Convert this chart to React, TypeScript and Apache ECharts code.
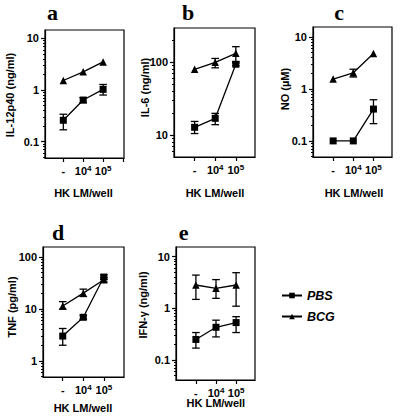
import React, { useEffect, useRef } from 'react';
import * as echarts from 'echarts';

// ---------- data ----------
const categories = ['-', '10^4', '10^5'];
const xValues = [0, 1, 2];
const seriesNames = ['PBS', 'BCG'];

// a: IL-12p40 (ng/ml)
const aPBS = [0.26, 0.64, 1.03];
const aPBSLow = [0.17, 0.57, 0.8];
const aPBSHigh = [0.34, 0.71, 1.28];
const aBCG = [1.53, 2.25, 3.5];
const aBCGLow = [null, null, null];
const aBCGHigh = [null, null, null];

// b: IL-6 (ng/ml)
const bPBS = [12.8, 17, 94];
const bPBSLow = [10.5, 13.9, 90];
const bPBSHigh = [15.4, 19.9, 98];
const bBCG = [80, 100, 133];
const bBCGLow = [null, 84, 102];
const bBCGHigh = [null, 113, 164];

// c: NO (µM)
const cPBS = [0.1, 0.1, 0.41];
const cPBSLow = [null, null, 0.215];
const cPBSHigh = [null, null, 0.62];
const cBCG = [1.55, 2.05, 4.8];
const cBCGLow = [null, 1.7, null];
const cBCGHigh = [null, 2.4, null];

// d: TNF (pg/ml)
const dPBS = [3.0, 6.9, 41];
const dPBSLow = [2.0, 6.3, 37];
const dPBSHigh = [4.2, 7.6, 45];
const dBCG = [11.4, 20.1, 36.4];
const dBCGLow = [9.9, 17.3, 33];
const dBCGHigh = [13.8, 24, 40];

// e: IFN-γ (ng/ml)
const ePBS = [0.25, 0.43, 0.53];
const ePBSLow = [0.17, 0.28, 0.34];
const ePBSHigh = [0.34, 0.59, 0.69];
const eBCG = [2.83, 2.44, 2.83];
const eBCGLow = [1.49, 1.56, 1.1];
const eBCGHigh = [4.4, 3.6, 4.9];

const majorTicksA = [0.1, 1, 10];
const majorTicksB = [10, 100];
const majorTicksC = [0.1, 1, 10];
const majorTicksD = [1, 10, 100];
const majorTicksE = [0.1, 1, 10];
const minorMultipliers = [2, 3, 4, 5, 6, 7, 8, 9];

const xTitle = 'HK LM/well';

// ---------- layout ----------
type Panel = {
  letter: string;
  yTitle: string;
  pbs: number[]; pbsLow: (number | null)[]; pbsHigh: (number | null)[];
  bcg: number[]; bcgLow: (number | null)[]; bcgHigh: (number | null)[];
  majors: number[];
  yMin: number; yMax: number;
  xMin: number; xMax: number;
  grid: { left: number; top: number; width: number; height: number };
  letterPos: [number, number];
  yTitlePos: [number, number];
  xTitlePos: [number, number];
};

const panels: Panel[] = [
  {
    letter: 'a', yTitle: 'IL-12p40 (ng/ml)',
    pbs: aPBS, pbsLow: aPBSLow, pbsHigh: aPBSHigh, bcg: aBCG, bcgLow: aBCGLow, bcgHigh: aBCGHigh,
    majors: majorTicksA, yMin: 0.0484, yMax: 14.5, xMin: -0.92, xMax: 3.05,
    grid: { left: 45, top: 30, width: 79, height: 128 },
    letterPos: [52.5, 12], yTitlePos: [10, 95], xTitlePos: [83.5, 192.7],
  },
  {
    letter: 'b', yTitle: 'IL-6 (ng/ml)',
    pbs: bPBS, pbsLow: bPBSLow, pbsHigh: bPBSHigh, bcg: bBCG, bcgLow: bBCGLow, bcgHigh: bBCGHigh,
    majors: majorTicksB, yMin: 5, yMax: 296, xMin: -1.0, xMax: 2.93,
    grid: { left: 174, top: 28, width: 81, height: 129 },
    letterPos: [188, 12], yTitlePos: [145, 87.5], xTitlePos: [215, 192.7],
  },
  {
    letter: 'c', yTitle: 'NO (µM)',
    pbs: cPBS, pbsLow: cPBSLow, pbsHigh: cPBSHigh, bcg: cBCG, bcgLow: cBCGLow, bcgHigh: cBCGHigh,
    majors: majorTicksC, yMin: 0.049, yMax: 15.6, xMin: -1.0, xMax: 2.92,
    grid: { left: 313, top: 27, width: 79, height: 130 },
    letterPos: [339, 12], yTitlePos: [285, 89], xTitlePos: [354, 192.7],
  },
  {
    letter: 'd', yTitle: 'TNF (pg/ml)',
    pbs: dPBS, pbsLow: dPBSLow, pbsHigh: dPBSHigh, bcg: dBCG, bcgLow: dBCGLow, bcgHigh: dBCGHigh,
    majors: majorTicksD, yMin: 0.49, yMax: 155, xMin: -0.96, xMax: 2.98,
    grid: { left: 43, top: 247, width: 81, height: 130 },
    letterPos: [58, 232], yTitlePos: [11.5, 307], xTitlePos: [83, 408.3],
  },
  {
    letter: 'e', yTitle: 'IFN-γ (ng/ml)',
    pbs: ePBS, pbsLow: ePBSLow, pbsHigh: ePBSHigh, bcg: eBCG, bcgLow: eBCGLow, bcgHigh: eBCGHigh,
    majors: majorTicksE, yMin: 0.041, yMax: 15.4, xMin: -0.99, xMax: 2.94,
    grid: { left: 176, top: 247, width: 79, height: 133 },
    letterPos: [183.7, 232], yTitlePos: [143, 305], xTitlePos: [215.8, 403.3],
  },
];

const SANS = '"Liberation Sans", Arial, Helvetica, sans-serif';
const SERIF = '"Liberation Serif", "Times New Roman", serif';
const BLACK = '#000';

function minorTicksFor(min: number, max: number): number[] {
  const out: number[] = [];
  for (let e = Math.floor(Math.log10(min)); e <= Math.ceil(Math.log10(max)); e++) {
    for (const m of minorMultipliers) {
      const v = m * Math.pow(10, e);
      if (v > min && v < max) out.push(Math.log10(v));
    }
  }
  return out;
}

function errorRenderItem(params: any, api: any) {
  const x = api.value(0);
  const lo = api.value(1);
  const hi = api.value(2);
  const p1 = api.coord([x, lo]);
  const p2 = api.coord([x, hi]);
  const w = 3.8;
  const style = { stroke: BLACK, lineWidth: 1.3 };
  return {
    type: 'group',
    children: [
      { type: 'line', shape: { x1: p1[0], y1: p1[1], x2: p2[0], y2: p2[1] }, style },
      { type: 'line', shape: { x1: p1[0] - w, y1: p1[1], x2: p1[0] + w, y2: p1[1] }, style },
      { type: 'line', shape: { x1: p2[0] - w, y1: p2[1], x2: p2[0] + w, y2: p2[1] }, style },
    ],
  };
}

function buildOption() {
  const grid: any[] = [];
  const xAxis: any[] = [];
  const yAxis: any[] = [];
  const series: any[] = [];
  const graphic: any[] = [];

  panels.forEach((p, i) => {
    grid.push({ ...p.grid, show: true, borderColor: BLACK, borderWidth: 1.2, backgroundColor: 'transparent' });
    xAxis.push({
      type: 'value', gridIndex: i, min: p.xMin, max: p.xMax,
      splitLine: { show: false },
      axisLine: { show: true, onZero: false, lineStyle: { color: BLACK, width: 1.2 } },
      axisTick: { show: true, inside: false, length: 4, customValues: [...xValues, 3].filter((v) => v <= p.xMax + 0.1), lineStyle: { color: BLACK, width: 1.2 } },
      axisLabel: {
        show: true, margin: 6, customValues: xValues, color: BLACK,
        formatter: (v: number) => {
          const c = categories[Math.round(v)];
          if (c === '-') return '{m|-}';
          const [base, exp] = c.split('^');
          return `{b|${base}}{s|${exp}}`;
        },
        rich: {
          m: { fontFamily: SANS, fontWeight: 'bold', fontSize: 11, lineHeight: 12, padding: [2, 0, 0, 0], verticalAlign: 'bottom', color: BLACK },
          b: { fontFamily: SANS, fontWeight: 'bold', fontSize: 11, lineHeight: 12, padding: [2, 0, 0, 0], verticalAlign: 'bottom', color: BLACK },
          s: { fontFamily: SANS, fontWeight: 'bold', fontSize: 8, lineHeight: 9, verticalAlign: 'top', color: BLACK },
        },
      },
    });
    // main log axis
    yAxis.push({
      type: 'log', logBase: 10, gridIndex: i, min: p.yMin, max: p.yMax,
      position: 'left',
      splitLine: { show: false },
      axisLine: { show: true, onZero: false, lineStyle: { color: BLACK, width: 1.2 } },
      axisTick: { show: true, inside: false, length: 4, customValues: p.majors, lineStyle: { color: BLACK, width: 1.2 } },
      axisLabel: {
        show: true, customValues: p.majors, margin: 6, color: BLACK,
        fontFamily: SANS, fontWeight: 'bold', fontSize: 11,
        formatter: (v: number) => String(v),
      },
    });
    // minor ticks (decorative, log-spaced)
    yAxis.push({
      type: 'value', gridIndex: i, min: Math.log10(p.yMin), max: Math.log10(p.yMax),
      position: 'left', offset: 0,
      splitLine: { show: false },
      axisLine: { show: false, onZero: false },
      axisTick: { show: true, inside: false, length: 2, customValues: minorTicksFor(p.yMin, p.yMax), lineStyle: { color: BLACK, width: 1 } },
      axisLabel: { show: false },
    });
    const yIdx = i * 2;
    const mk = (name: string, vals: number[], symbol: string, size: number) => ({
      type: 'line', name, xAxisIndex: i, yAxisIndex: yIdx,
      data: xValues.map((x, k) => [x, vals[k]]),
      symbol, symbolSize: size, showSymbol: true,
      lineStyle: { color: BLACK, width: 1.3 },
      itemStyle: { color: BLACK, borderColor: BLACK, borderWidth: 0 },
      z: 3,
    });
    series.push(mk(seriesNames[0], p.pbs, 'rect', 7));
    series.push(mk(seriesNames[1], p.bcg, 'triangle', 7.5));
    const errData = (lo: (number | null)[], hi: (number | null)[]) =>
      xValues.filter((_, k) => lo[k] != null && hi[k] != null).map((x) => {
        const k = xValues.indexOf(x);
        return [x, lo[k], hi[k]];
      });
    series.push({
      type: 'custom', xAxisIndex: i, yAxisIndex: yIdx,
      renderItem: errorRenderItem, encode: { x: 0, y: [1, 2] },
      data: errData(p.pbsLow, p.pbsHigh), z: 2, silent: true,
    });
    series.push({
      type: 'custom', xAxisIndex: i, yAxisIndex: yIdx,
      renderItem: errorRenderItem, encode: { x: 0, y: [1, 2] },
      data: errData(p.bcgLow, p.bcgHigh), z: 2, silent: true,
    });

    graphic.push({
      type: 'text', x: p.letterPos[0], y: p.letterPos[1],
      style: { text: p.letter, font: `bold 22px ${SERIF}`, fill: BLACK, textAlign: 'center', textVerticalAlign: 'middle' },
    });
    graphic.push({
      type: 'text', x: p.yTitlePos[0], y: p.yTitlePos[1], rotation: Math.PI / 2,
      style: { text: p.yTitle, font: `bold 11px ${SANS}`, fill: BLACK, textAlign: 'center', textVerticalAlign: 'middle' },
    });
    graphic.push({
      type: 'text', x: p.xTitlePos[0], y: p.xTitlePos[1],
      style: { text: xTitle, font: `bold 11px ${SANS}`, fill: BLACK, textAlign: 'center', textVerticalAlign: 'middle' },
    });
  });

  return {
    animation: false,
    backgroundColor: '#fff',
    grid, xAxis, yAxis, series, graphic,
    legend: {
      data: seriesNames,
      orient: 'vertical', left: 276, top: 284,
      itemWidth: 20, itemHeight: 7, itemGap: 8,
      textStyle: { fontFamily: SANS, fontWeight: 'bold', fontStyle: 'italic', fontSize: 12.5, color: BLACK },
    },
  };
}

export default function App() {
  const ref = useRef<HTMLDivElement>(null);
  useEffect(() => {
    if (!ref.current) return;
    const chart = echarts.init(ref.current, null, { renderer: 'svg' });
    chart.setOption(buildOption() as any);
    return () => chart.dispose();
  }, []);
  return <div ref={ref} style={{ position: 'absolute', left: 0, top: 0, width: 400, height: 417 }} />;
}
